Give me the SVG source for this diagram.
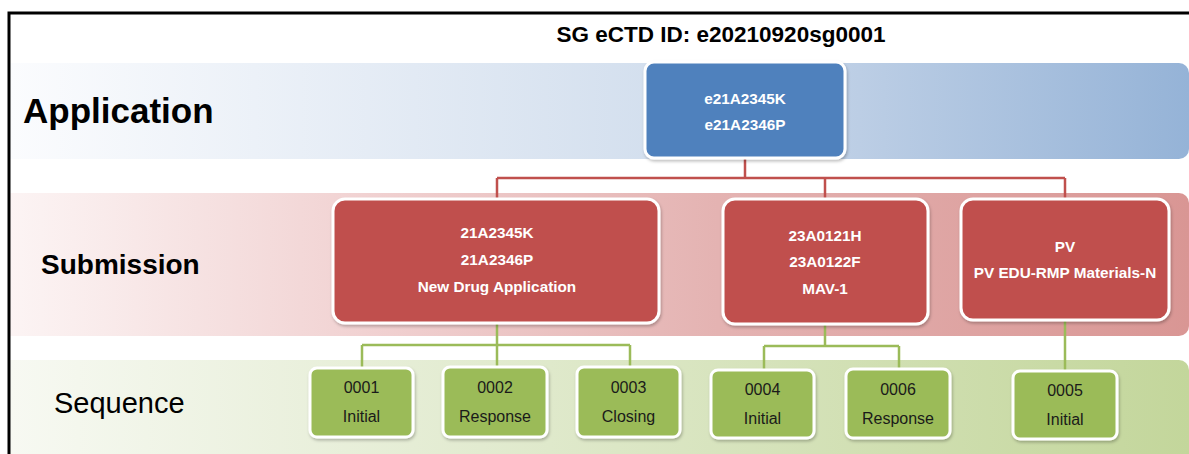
<svg xmlns="http://www.w3.org/2000/svg" width="1189" height="454" viewBox="0 0 1189 454">
<defs>
<linearGradient id="gApp" x1="0" y1="0" x2="1" y2="0">
<stop offset="0" stop-color="#fbfcfe"/>
<stop offset="0.55" stop-color="#d3dfee"/>
<stop offset="0.72" stop-color="#bccee5"/>
<stop offset="1" stop-color="#95b3d7"/>
</linearGradient>
<linearGradient id="gSub" x1="0" y1="0" x2="1" y2="0">
<stop offset="0" stop-color="#fcf4f4"/>
<stop offset="0.3" stop-color="#f1d2d2"/>
<stop offset="0.6" stop-color="#e4b3b2"/>
<stop offset="1" stop-color="#d99694"/>
</linearGradient>
<linearGradient id="gSeq" x1="0" y1="0" x2="1" y2="0">
<stop offset="0" stop-color="#f7f9f2"/>
<stop offset="0.4" stop-color="#e2ebd0"/>
<stop offset="1" stop-color="#c3d69b"/>
</linearGradient>
<filter id="sh" x="-10%" y="-10%" width="120%" height="130%">
<feDropShadow dx="1" dy="2" stdDeviation="1.5" flood-color="#000" flood-opacity="0.25"/>
</filter>
</defs>
<style>
.lbl{font-family:"Liberation Sans",Arial,sans-serif;fill:#000}
.nt{font-family:"Liberation Sans",Arial,sans-serif;font-weight:bold;font-size:15.3px;fill:#fff;text-anchor:middle}
.st{font-family:"Liberation Sans",Arial,sans-serif;font-size:16px;fill:#1a1a1a;text-anchor:middle}
.app{fill:#4f81bd;stroke:#fff;stroke-width:3;filter:url(#sh)}
.sub{fill:#c0504d;stroke:#fff;stroke-width:3;filter:url(#sh)}
.seq{fill:#9bbb59;stroke:#fff;stroke-width:3;filter:url(#sh)}
.cr{fill:none;stroke:#c0504d;stroke-width:2.5}
.cg{fill:none;stroke:#9bbb59;stroke-width:2.5}
</style>
<rect width="1189" height="454" fill="#fff"/>
<g id="bands">
<path d="M10 63 H1179 A10 10 0 0 1 1189 73 V149 A10 10 0 0 1 1179 159 H10 Z" fill="url(#gApp)"/>
<path d="M10 193 H1179 A10 10 0 0 1 1189 203 V326 A10 10 0 0 1 1179 336 H10 Z" fill="url(#gSub)"/>
<path d="M10 360 H1179 A10 10 0 0 1 1189 370 V454 H10 Z" fill="url(#gSeq)"/>
</g>
<path d="M9 454 V13 H1189" fill="none" stroke="#000" stroke-width="3"/>
<text class="lbl" x="721" y="42" font-size="22.5" font-weight="bold" text-anchor="middle">SG eCTD ID: e20210920sg0001</text>
<text class="lbl" x="23" y="123" font-size="35" font-weight="bold">Application</text>
<text class="lbl" x="41" y="274" font-size="28" font-weight="bold">Submission</text>
<text class="lbl" x="54" y="413" font-size="29">Sequence</text>
<g id="connectors">
<path class="cr" d="M745 158 V178 M497 178 H1065 M497 178 V199 M825 178 V199 M1065 178 V199"/>
<path class="cg" d="M497 323 V345 M362 345 H630 M362 345 V368 M497 345 V367 M630 345 V367"/>
<path class="cg" d="M825 325 V346 M764 346 H899 M764 346 V370 M899 346 V369"/>
<path class="cg" d="M1065 320 V371"/>
</g>
<g id="app1">
<rect class="app" x="645" y="62" width="200" height="96" rx="9"/>
<text class="nt" x="745" y="104">e21A2345K</text>
<text class="nt" x="745" y="130">e21A2346P</text>
</g>
<g id="sub1">
<rect class="sub" x="333" y="199" width="326" height="124" rx="12"/>
<text class="nt" x="497" y="238">21A2345K</text>
<text class="nt" x="497" y="265">21A2346P</text>
<text class="nt" x="497" y="292">New Drug Application</text>
</g>
<g id="sub2">
<rect class="sub" x="723" y="199" width="205" height="125" rx="12"/>
<text class="nt" x="825" y="241">23A0121H</text>
<text class="nt" x="825" y="267">23A0122F</text>
<text class="nt" x="825" y="294">MAV-1</text>
</g>
<g id="sub3">
<rect class="sub" x="961" y="199" width="208" height="121" rx="12"/>
<text class="nt" x="1065" y="252">PV</text>
<text class="nt" x="1065" y="278">PV EDU-RMP Materials-N</text>
</g>
<g id="seq0001">
<rect class="seq" x="310" y="368" width="103" height="69" rx="7"/>
<text class="st" x="361.5" y="393">0001</text>
<text class="st" x="361.5" y="422">Initial</text>
</g>
<g id="seq0002">
<rect class="seq" x="443" y="367" width="104" height="70" rx="7"/>
<text class="st" x="495" y="393">0002</text>
<text class="st" x="495" y="422">Response</text>
</g>
<g id="seq0003">
<rect class="seq" x="577" y="367" width="103" height="70" rx="7"/>
<text class="st" x="628.5" y="393">0003</text>
<text class="st" x="628.5" y="422">Closing</text>
</g>
<g id="seq0004">
<rect class="seq" x="711" y="370" width="103" height="68" rx="7"/>
<text class="st" x="762.5" y="395">0004</text>
<text class="st" x="762.5" y="424">Initial</text>
</g>
<g id="seq0006">
<rect class="seq" x="846" y="369" width="104" height="69" rx="7"/>
<text class="st" x="898" y="395">0006</text>
<text class="st" x="898" y="424">Response</text>
</g>
<g id="seq0005">
<rect class="seq" x="1013" y="371" width="104" height="68" rx="7"/>
<text class="st" x="1065" y="396">0005</text>
<text class="st" x="1065" y="425">Initial</text>
</g>
</svg>
